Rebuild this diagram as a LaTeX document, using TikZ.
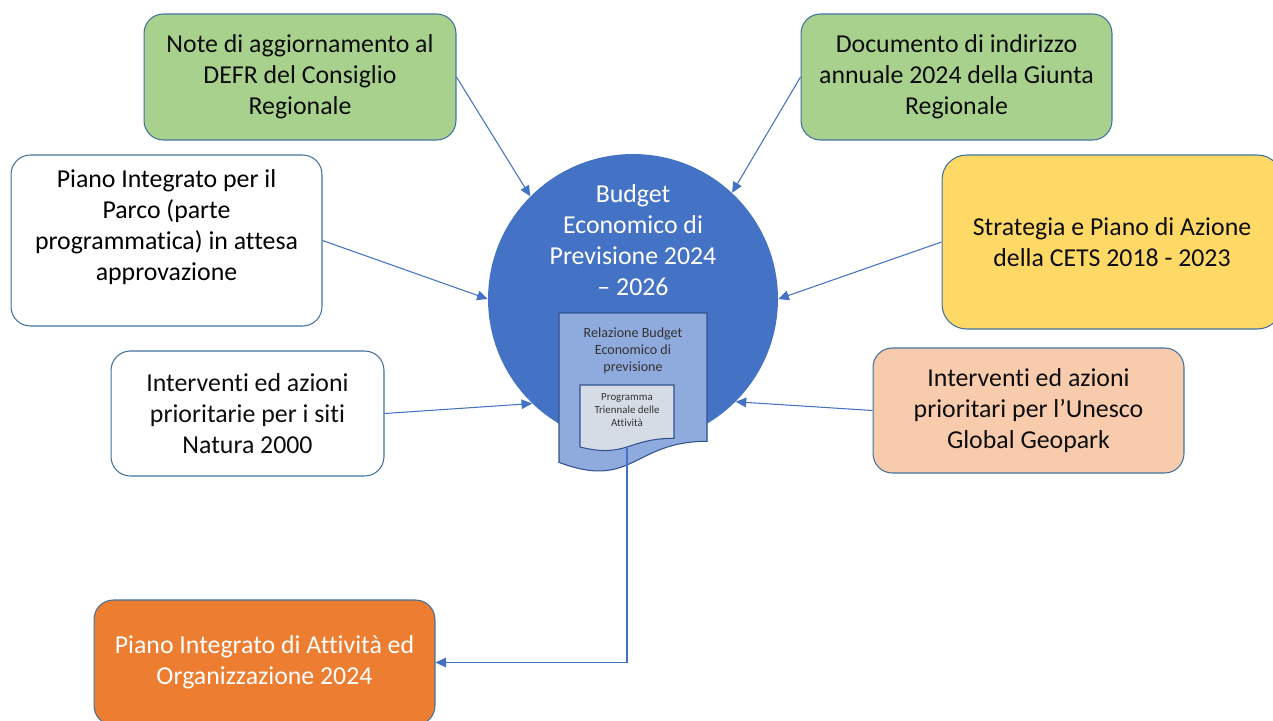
\documentclass[tikz,border=0pt]{standalone}
\usepackage{fontspec}
\setmainfont{Carlito}[Ligatures=NoCommon]
\usepackage{tikz}
\usepackage{xcolor}
\usetikzlibrary{arrows.meta}

\definecolor{boxline}{HTML}{41719C}
\definecolor{linkblue}{HTML}{4472C4}
\definecolor{budblue}{HTML}{4472C4}
\definecolor{greenbox}{HTML}{A9D18E}
\definecolor{yellowbox}{HTML}{FFD966}
\definecolor{peachbox}{HTML}{F8CBAD}
\definecolor{orangebox}{HTML}{ED7D31}
\definecolor{docblue}{HTML}{8FAADC}
\definecolor{docline}{HTML}{2F528F}
\definecolor{docgray}{HTML}{D6DCE5}

\newcommand{\boxfont}{\fontsize{14.7}{17.6}\selectfont}

\begin{document}
\begin{tikzpicture}[x=0.02cm, y=-0.02cm]
	\tikzstyle{box} = [draw=boxline, line width=0.6pt, rounded corners=11pt, align=center, font=\boxfont, text=black!95, inner sep=0pt]
	\tikzstyle{link} = [draw=linkblue, line width=0.6pt, -{Triangle[length=6pt, width=5.5pt]}]
	\useasboundingbox (0,0) rectangle (1273,720);
	\clip (0,0) rectangle (1273,720);

	% central budget
	\node[circle, fill=budblue, minimum size=5.8cm, inner sep=0pt] (bud) at (633,299)
		[label={[yshift=33.7pt, text=white, font=\boxfont, align=center]center:{Budget\\Economico di\\Previsione 2024\\– 2026}}] {};

	% documents
	\filldraw[fill=docblue, draw=docline, line width=0.6pt] (559,313) -- (707,313) -- (707,441.3)
		.. controls (633,441.3) and (633,490.2) .. (559,462.4) -- cycle;
	\node[font=\fontsize{8}{9.6}\selectfont, text=black!80, align=center] (rel) at (633,351) {Relazione Budget\\Economico di\\previsione};
	\filldraw[fill=docgray, draw=docline, line width=0.6pt] (580,385) -- (674,385) -- (674,438.3)
		.. controls (627,438.3) and (627,458.5) .. (580,447) -- cycle;
	\node[font=\fontsize{6.2}{7.4}\selectfont, text=black!80, align=center] (pta) at (627,410) {Programma\\Triennale delle\\Attività};
	\coordinate (ptaout) at (627,447);

	% boxes
	\node[box, fill=greenbox, minimum width=6.24cm, minimum height=2.52cm] (defr) at (300,77) {Note di aggiornamento al\\DEFR del Consiglio\\Regionale};
	\node[box, fill=greenbox, minimum width=6.22cm, minimum height=2.52cm] (giunta) at (956.5,77) {Documento di indirizzo\\annuale 2024 della Giunta\\Regionale};
	\node[box, fill=white, minimum width=6.22cm, minimum height=3.42cm] (pip) at (166.5,240.5)
		[label={[yshift=7.7pt, font=\boxfont, align=center]center:{Piano Integrato per il\\Parco (parte\\programmatica) in attesa\\approvazione}}] {};
	\node[box, fill=yellowbox, rounded corners=14pt, minimum width=6.8cm, minimum height=3.48cm] (cets) at (1112,242) {Strategia e Piano di Azione\\della CETS 2018 - 2023};
	\node[box, fill=white, minimum width=5.46cm, minimum height=2.5cm] (natura) at (247.5,413.5) {Interventi ed azioni\\prioritarie per i siti\\Natura 2000};
	\node[box, fill=peachbox, minimum width=6.22cm, minimum height=2.5cm] (geopark) at (1028.5,410.5) {Interventi ed azioni\\prioritari per l’Unesco\\Global Geopark};
	\node[box, fill=orangebox, text=white, minimum width=6.82cm, minimum height=2.5cm] (piao) at (264.5,662.5) {Piano Integrato di Attività ed\\Organizzazione 2024};

	% connectors
	\draw[link] (defr.east) -- (bud.135);
	\draw[link] (giunta.west) -- (bud.47);
	\draw[link] (pip.east) -- (bud.180);
	\draw[link] (cets.west) -- (bud.0);
	\draw[link] (natura.east) -- (bud.226);
	\draw[link] (geopark.west) -- (bud.315);
	\draw[link] (ptaout) |- (piao.east);
\end{tikzpicture}
\end{document}
